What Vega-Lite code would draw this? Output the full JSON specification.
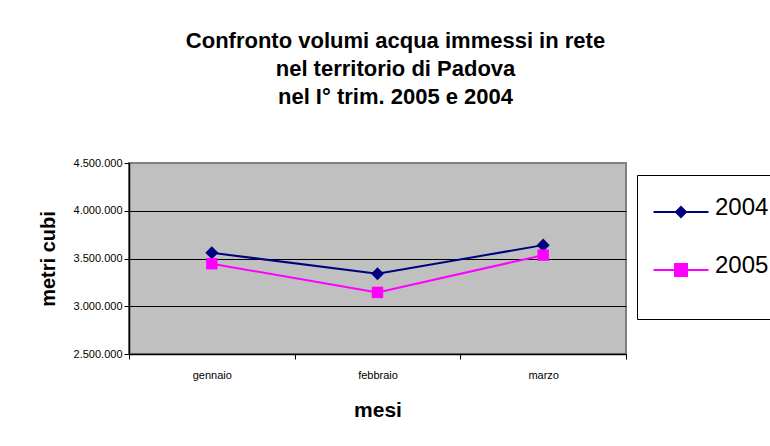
{
  "$schema": "https://vega.github.io/schema/vega-lite/v6.json",
  "width": 497,
  "height": 191,
  "autosize": {"type": "none"},
  "padding": {"left": 129, "top": 163, "right": 144, "bottom": 92},
  "background": "white",
  "title": {
    "text": ["Confronto volumi acqua immessi in rete", "nel territorio di  Padova", "nel I° trim. 2005 e 2004"],
    "font": "Liberation Sans",
    "fontSize": 22,
    "fontWeight": "bold",
    "color": "black",
    "lineHeight": 28,
    "anchor": "middle",
    "frame": "group",
    "dx": 18,
    "offset": 26,
    "baseline": "bottom"
  },
  "config": {
    "font": "Liberation Sans",
    "locale": {"number": {"decimal": ",", "thousands": ".", "grouping": [3], "currency": ["€", ""]}},
    "view": {"fill": "#C0C0C0", "stroke": "#808080", "strokeWidth": 2}
  },
  "data": {
    "values": [
      {"mese": "gennaio", "anno": "2004", "valore": 3560000},
      {"mese": "febbraio", "anno": "2004", "valore": 3340000},
      {"mese": "marzo", "anno": "2004", "valore": 3640000},
      {"mese": "gennaio", "anno": "2005", "valore": 3445000},
      {"mese": "febbraio", "anno": "2005", "valore": 3145000},
      {"mese": "marzo", "anno": "2005", "valore": 3535000}
    ]
  },
  "encoding": {
    "x": {
      "field": "mese",
      "type": "nominal",
      "sort": ["gennaio", "febbraio", "marzo"],
      "bandPosition": 0.5,
      "scale": {"type": "band", "paddingInner": 0, "paddingOuter": 0},
      "axis": {
        "labelAngle": 0,
        "tickBand": "extent",
        "title": "mesi",
        "titleFontSize": 21,
        "titleFontWeight": "bold",
        "titleColor": "black",
        "titlePadding": 19,
        "labelFontSize": 11,
        "labelColor": "black",
        "labelPadding": 10,
        "tickSize": 5,
        "tickColor": "black",
        "domainColor": "black",
        "domainWidth": 1.5,
        "grid": false
      }
    },
    "y": {
      "field": "valore",
      "type": "quantitative",
      "scale": {"domain": [2500000, 4500000], "nice": false, "zero": false},
      "axis": {
        "values": [2500000, 3000000, 3500000, 4000000, 4500000],
        "format": ",.0f",
        "title": "metri cubi",
        "titleFontSize": 20,
        "titleFontWeight": "bold",
        "titleColor": "black",
        "titlePadding": 15,
        "labelFontSize": 11,
        "labelColor": "black",
        "labelPadding": 2,
        "tickSize": 5,
        "tickColor": "black",
        "domainColor": "black",
        "domainWidth": 1.5,
        "grid": true,
        "gridColor": {"condition": {"test": "datum.value >= 4500000", "value": "#808080"}, "value": "black"},
        "gridOpacity": 1,
        "gridWidth": 1
      }
    },
    "color": {
      "field": "anno",
      "type": "nominal",
      "scale": {"domain": ["2004", "2005"], "range": ["#000080", "#FF00FF"]},
      "legend": {
        "orient": "none",
        "legendX": 508,
        "legendY": 12,
        "direction": "vertical",
        "title": " ",
        "titleOrient": "bottom",
        "titleFontSize": 10,
        "titlePadding": 18,
        "padding": 11,
        "fillColor": "white",
        "strokeColor": "black",
        "symbolSize": 2500,
        "symbolStrokeWidth": 2,
        "symbolOffset": 7,
        "labelOffset": 8,
        "labelFontSize": 24,
        "labelFont": "Liberation Sans",
        "labelColor": "black",
        "rowPadding": 23,
        "encode": {
          "symbols": {
            "update": {
              "shape": {"signal": "datum.value === '2004' ? 'M-1.1,0L1.1,0M0,-0.2L0.2,0L0,0.2L-0.2,0Z' : 'M-1.1,0L1.1,0M-0.24,-0.24L0.24,-0.24L0.24,0.24L-0.24,0.24Z'"},
              "fill": {"signal": "datum.value === '2004' ? '#000080' : '#FF00FF'"},
              "stroke": {"signal": "datum.value === '2004' ? '#000080' : '#FF00FF'"},
              "strokeWidth": {"value": 2},
              "opacity": {"value": 1}
            }
          },
          "labels": {"update": {"dy": {"value": -4}}}
        }
      }
    }
  },
  "layer": [
    {"mark": {"type": "line", "strokeWidth": 2}},
    {
      "mark": {"type": "point", "filled": true, "opacity": 1},
      "encoding": {
        "shape": {"condition": {"test": "datum.anno === '2004'", "value": "diamond"}, "value": "square"},
        "size": {"condition": {"test": "datum.anno === '2004'", "value": 170}, "value": 130}
      }
    }
  ]
}
